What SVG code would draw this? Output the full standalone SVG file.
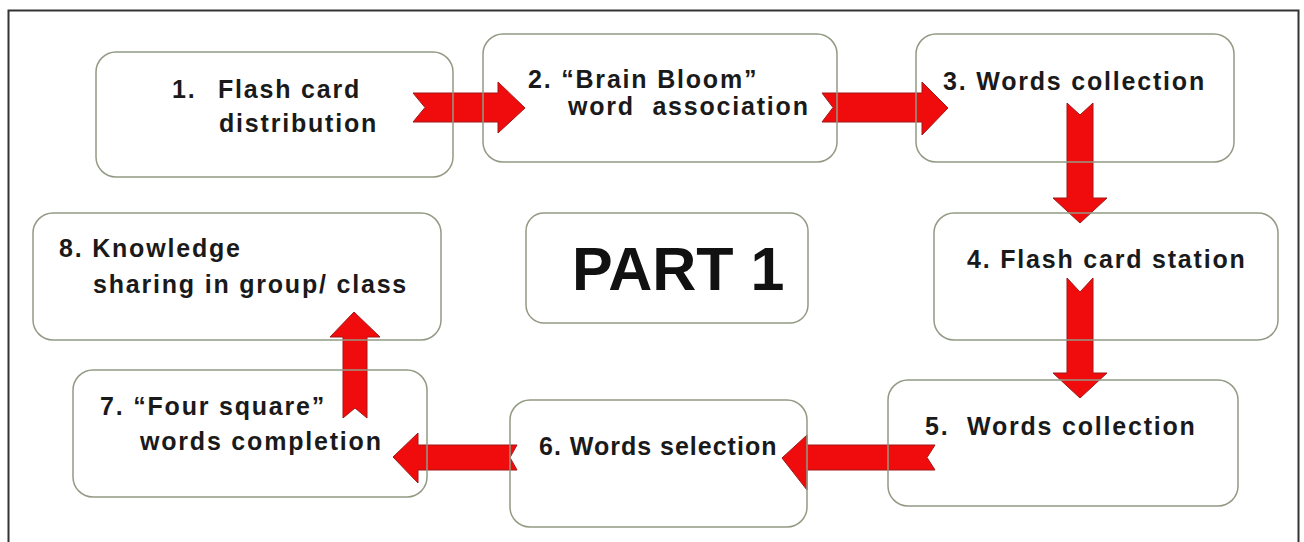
<svg xmlns="http://www.w3.org/2000/svg" width="1304" height="542" viewBox="0 0 1304 542">
<style>
.box{fill:none;stroke:#939a84;stroke-width:1.5}
.arr{fill:#f00c0c;stroke:#a01818;stroke-width:1;stroke-linejoin:miter}
.t{font-family:"Liberation Sans",Arial,sans-serif;font-weight:bold;font-size:25px;letter-spacing:1.8px;fill:#1a1a1a}
.big{font-family:"Liberation Sans",Arial,sans-serif;font-weight:bold;font-size:61px;fill:#111}
</style>
<rect x="0" y="0" width="1304" height="542" fill="#ffffff"/>
<rect x="8.5" y="10.5" width="1290" height="560" fill="none" stroke="#333" stroke-width="2"/>
<g id="connectors">
<polygon class="arr" points="413,93 425,107.5 413,122 498,122 498,133 525,108 498,82 498,93"/>
<polygon class="arr" points="822,93 833,107.5 822,122 922,122 922,135 948,108 922,82 922,93"/>
<polygon class="arr" points="1067,103 1080,115 1093,103 1093,198 1107,198 1080,223 1053,198 1067,198"/>
<polygon class="arr" points="1067,278 1080,292 1093,278 1093,373 1107,373 1080,398 1053,373 1067,373"/>
<polygon class="arr" points="935,445 927,457.5 935,470 807,470 807,490 782,458 807,435 807,445"/>
<polygon class="arr" points="517,445 510,457.5 517,470 418,470 418,483 393,457 418,433 418,445"/>
<polygon class="arr" points="343,418 355,408 367,418 367,337 380,337 354,312 330,337 343,337"/>
</g>
<g id="node1"><rect class="box" x="96" y="52" width="357" height="125" rx="20"/>
<text class="t" x="172" y="98">1.</text><text class="t" x="218" y="98">Flash card</text>
<text class="t" x="219" y="132">distribution</text></g>
<g id="node2"><rect class="box" x="483" y="34" width="354" height="128" rx="20"/>
<text class="t" x="528" y="88">2. “Brain Bloom”</text>
<text class="t" x="568" y="115" xml:space="preserve">word  association</text></g>
<g id="node3"><rect class="box" x="916" y="34" width="318" height="128" rx="20"/>
<text class="t" x="943" y="90">3. Words collection</text></g>
<g id="node4"><rect class="box" x="934" y="213" width="344" height="127" rx="20"/>
<text class="t" x="967" y="268">4. Flash card station</text></g>
<g id="node5"><rect class="box" x="888" y="380" width="350" height="126" rx="20"/>
<text class="t" x="925" y="435" xml:space="preserve">5.  Words collection</text></g>
<g id="node6"><rect class="box" x="510" y="400" width="297" height="127" rx="20"/>
<text class="t" x="539" y="455" style="letter-spacing:1px">6. Words selection</text></g>
<g id="node7"><rect class="box" x="73" y="370" width="354" height="127" rx="20"/>
<text class="t" x="100" y="415">7. “Four square”</text>
<text class="t" x="140" y="450">words completion</text></g>
<g id="node8"><rect class="box" x="33" y="213" width="408" height="127" rx="20"/>
<text class="t" x="59" y="257">8. Knowledge</text>
<text class="t" x="93" y="293">sharing in group/ class</text></g>
<g id="part1"><rect class="box" x="526" y="213" width="282" height="110" rx="18"/>
<text class="big" x="572" y="290">PART 1</text></g>
</svg>
